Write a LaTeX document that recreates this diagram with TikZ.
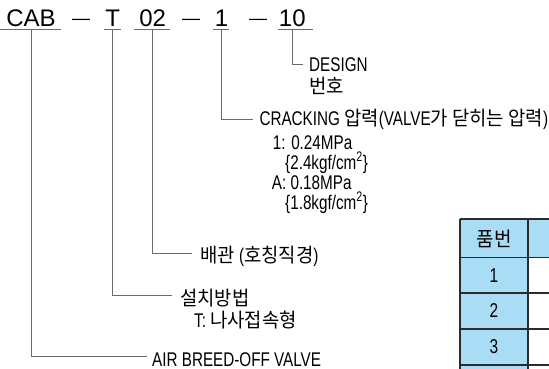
\documentclass[tikz,border=0pt]{standalone}
\usepackage{fontspec}
\setmainfont{Liberation Sans}
\newfontfamily\latc[FakeStretch=0.77]{Liberation Sans}
\newfontfamily\krf[Scale=1.0,FakeStretch=0.95]{Noto Sans CJK KR}
\newcommand{\hk}[1]{{\krf #1}}
\newcommand{\labfont}{\fontsize{19.8}{21}\selectfont\latc}
\definecolor{tblue}{HTML}{A9DDF6}
\definecolor{lgray}{HTML}{6A6A6A}
\definecolor{tborder}{HTML}{2B2B2B}
\begin{document}
\begin{tikzpicture}[x=1pt,y=-1pt,
  toptxt/.style={font=\fontsize{24}{28}\selectfont, inner sep=0, anchor=base, text=black},
  dashtxt/.style={font=\fontsize{18}{20}\selectfont, inner sep=0, anchor=base, text=black},
  lbl/.style={font=\labfont, inner sep=0, anchor=base west, text=black},
  conn/.style={draw=lgray, line width=0.9pt},
  uline/.style={draw=lgray, line width=1pt},
  cellb/.style={fill=tblue},
  cellw/.style={fill=white},
  tgrid/.style={draw=tborder, line width=1.3pt},
  ttxt/.style={font=\fontsize{20}{22}\selectfont\latc, inner sep=0, anchor=center}]
\useasboundingbox (0,0) rectangle (549,369);
\clip (0,0) rectangle (549,369);

% top code
\node[toptxt] (cab) at (31,26.5) {CAB};
\node[dashtxt] (da) at (81,25) {—};
\node[toptxt] (t) at (112.7,26.5) {T};
\node[toptxt] (d02) at (152.7,26.5) {02};
\node[dashtxt] (db) at (191,25) {—};
\node[toptxt] (n1) at (221.5,26.5) {1};
\node[dashtxt] (dc) at (258,25) {—};
\node[toptxt] (n10) at (292.3,26.5) {10};

\coordinate (ul) at (0,30);
\draw[uline] (0,30) -- (61,30);
\draw[uline] (104,30) -- (121,30);
\draw[uline] (134,30) -- (170,30);
\draw[uline] (213,30) -- (229,30);
\draw[uline] (278,30) -- (313,30);

% labels
\node[lbl] (design) at (309,71) {DESIGN};
\node[lbl] (bunho) at (309,93) {\hk{번호}};
\node[lbl] (crack) at (259.3,125) {CRACKING \hk{압력}(VALVE\hk{가 닫히는 압력})};
\node[lbl] (p1) at (272.7,149.3) {1: 0.24MPa};
\node[lbl] (p1b) at (285,169) {\{2.4kgf/cm\textsuperscript{2}\}};
\node[lbl] (pa) at (271.7,189) {A: 0.18MPa};
\node[lbl] (pab) at (285,209) {\{1.8kgf/cm\textsuperscript{2}\}};
\node[lbl] (pipe) at (200,262) {\hk{배관} (\hk{호칭직경})};
\node[lbl] (inst) at (180,305) {\hk{설치방법}};
\node[lbl] (instt) at (194,327) {T: \hk{나사접속형}};
\node[lbl] (air) at (152,366) {AIR BREED-OFF VALVE};

% connector ends
\coordinate (eDesign) at (303,64);
\coordinate (eCrack) at (253.3,119);
\coordinate (ePipe) at (191.7,253.3);
\coordinate (eInst) at (171.7,295);
\coordinate (eAir) at (147,356);

\draw[conn] (n10 |- ul) |- (eDesign);
\draw[conn] (n1 |- ul) |- (eCrack);
\draw[conn] (d02 |- ul) |- (ePipe);
\draw[conn] (t |- ul) |- (eInst);
\draw[conn] (cab |- ul) |- (eAir);

% table
\path[cellb] (460,219) rectangle (600,257.7);
\path[cellb] (460,257.7) rectangle (528,401);
\path[cellw] (528,257.7) rectangle (600,401);
\draw[tgrid] (460,219) -- (600,219);
\draw[tgrid] (460,257.7) -- (600,257.7);
\draw[tgrid] (460,293) -- (600,293);
\draw[tgrid] (460,329) -- (600,329);
\draw[tgrid] (460,365) -- (600,365);
\draw[tgrid] (460,219) -- (460,401);
\draw[tgrid] (528,219) -- (528,401);

\node[ttxt] (h1) at (494,238.5) {\hk{품번}};
\node[ttxt] (r1) at (494,275.5) {1};
\node[ttxt] (r2) at (494,311) {2};
\node[ttxt] (r3) at (494,347) {3};
\end{tikzpicture}
\end{document}
